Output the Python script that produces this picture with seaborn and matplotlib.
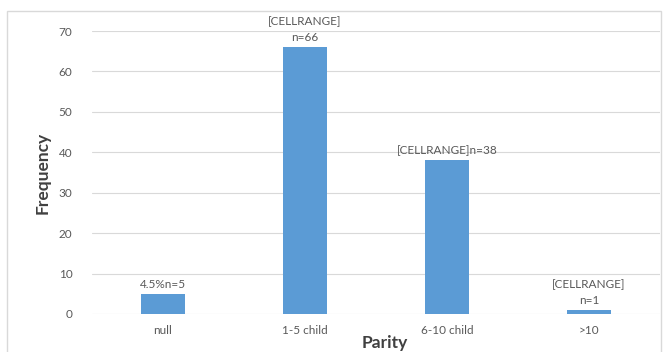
import matplotlib
matplotlib.use("Agg")
import matplotlib.pyplot as plt
import seaborn as sns
import pandas as pd
from matplotlib.patches import Rectangle

# Parity groups and their counts
categories = ["null", "1-5 child", "6-10 child", ">10"]
counts = [5, 66, 38, 1]
label_prefix = ["4.5%", "[CELLRANGE]\n", "[CELLRANGE]", "[CELLRANGE]\n"]
y_ticks = [0, 10, 20, 30, 40, 50, 60, 70]

sns.set_style("white")
plt.rcParams["font.family"] = ["Lato", "DejaVu Sans"]

df = pd.DataFrame({"Parity": categories, "Frequency": counts})

fig = plt.figure(figsize=(6.68, 3.52), dpi=100)
fig.patches.append(Rectangle((7 / 668, -0.05), 654 / 668, 1.05 - 11 / 352,
                             transform=fig.transFigure, fill=False,
                             edgecolor="#D9D9D9", linewidth=1.0))
ax = fig.add_axes([92 / 668, 38 / 352, 568 / 668, 283 / 352])

sns.barplot(data=df, x="Parity", y="Frequency", color="#5B9BD5",
            width=0.31, saturation=1, linewidth=0, ax=ax)

ax.set_ylim(0, 70)
ax.set_yticks(y_ticks)
ax.set_xlim(-0.5, len(categories) - 0.5)
ax.grid(axis="y", color="#D9D9D9", linewidth=0.8)
ax.set_axisbelow(True)
for s in ax.spines.values():
    s.set_visible(False)
ax.tick_params(axis="both", length=0, labelsize=8.5, labelcolor="#595959")
ax.tick_params(axis="x", pad=8)
ax.tick_params(axis="y", pad=14)

for i, (p, v) in enumerate(zip(label_prefix, counts)):
    ax.annotate(f"{p}n={v}", (i, v), xytext=(0, 3), textcoords="offset points",
                ha="center", va="bottom", fontsize=8.5, color="#595959",
                linespacing=1.5)

ax.set_xlabel("")
ax.set_ylabel("Frequency", fontsize=12.5, fontweight="bold", color="#404040")
ax.yaxis.set_label_coords(-0.073, 0.5)
fig.text(385 / 668, 1 / 352, "Parity", ha="center", va="bottom",
         fontsize=12.5, fontweight="bold", color="#404040")

fig.savefig("out.png", dpi=100)
